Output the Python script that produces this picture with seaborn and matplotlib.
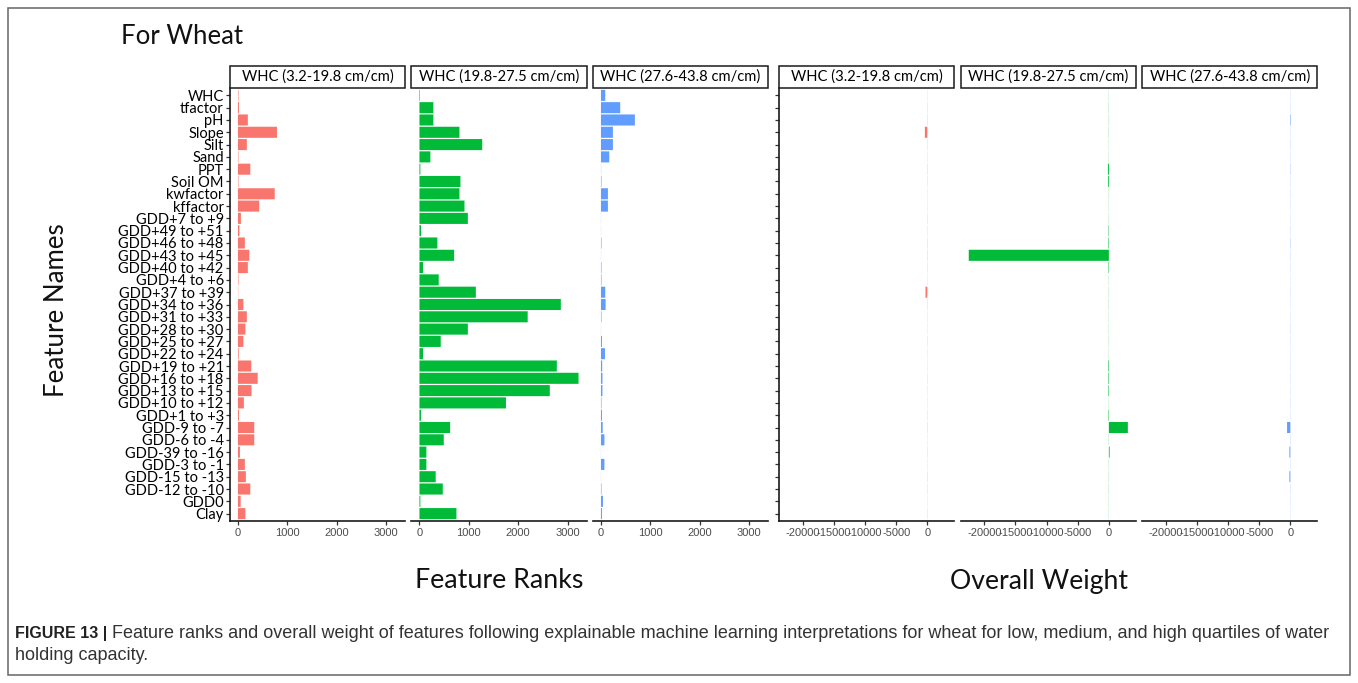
import matplotlib
matplotlib.use("Agg")
import matplotlib.pyplot as plt
from matplotlib.patches import Rectangle
import seaborn as sns
import pandas as pd

# ---- data -------------------------------------------------------------
features = [
    "WHC", "tfactor", "pH", "Slope", "Silt", "Sand", "PPT", "Soil OM",
    "kwfactor", "kffactor", "GDD+7 to +9", "GDD+49 to +51", "GDD+46 to +48",
    "GDD+43 to +45", "GDD+40 to +42", "GDD+4 to +6", "GDD+37 to +39",
    "GDD+34 to +36", "GDD+31 to +33", "GDD+28 to +30", "GDD+25 to +27",
    "GDD+22 to +24", "GDD+19 to +21", "GDD+16 to +18", "GDD+13 to +15",
    "GDD+10 to +12", "GDD+1 to +3", "GDD-9 to -7", "GDD-6 to -4",
    "GDD-39 to -16", "GDD-3 to -1", "GDD-15 to -13", "GDD-12 to -10",
    "GDD0", "Clay",
]

whc_groups = ["WHC (3.2-19.8 cm/cm)", "WHC (19.8-27.5 cm/cm)", "WHC (27.6-43.8 cm/cm)"]
group_colors = ["#F8766D", "#00BA38", "#619CFF"]

# feature ranks per WHC group
rank_low = [10, 20, 200, 790, 180, 10, 250, 10, 745, 430, 60, 30, 140, 230, 200,
            10, 5, 110, 180, 150, 110, 15, 270, 400, 275, 120, 20, 330, 330, 40,
            140, 160, 250, 55, 150]
rank_mid = [10, 282, 282, 810, 1271, 221, 18, 830, 810, 912, 980, 31, 363, 702, 72,
            390, 1142, 2863, 2192, 980, 431, 72, 2782, 3222, 2640, 1752, 31, 621,
            492, 140, 140, 329, 472, 18, 749]
rank_high = [87, 390, 687, 242, 242, 168, 3, 10, 141, 141, 2, 2, 10, 2, 10, 10, 87,
             94, 10, 2, 20, 81, 25, 30, 30, 10, 20, 35, 70, 2, 70, 2, 10, 40, 20]

# overall weight per WHC group
weight_low = [20, -25, 30, -400, 25, -20, 30, -25, 20, -20, 25, -20, 30, -30, 25,
              -20, -300, 25, -20, 20, -25, 20, -20, 25, -20, 20, -25, 30, -20, 25,
              -20, 30, -25, 20, -25]
weight_mid = [20, -25, 30, -25, 20, -20, -150, -120, 25, -20, 25, -60, -80, -22510,
              -70, -20, 25, -25, 20, -20, 25, -20, -90, -80, -80, 20, -70, 3050,
              -25, 120, -20, 25, -25, 20, -20]
weight_high = [-20, 25, 80, -20, 25, -20, 40, 20, -25, 20, -20, 25, 40, -25, 20,
               -20, 25, -20, 20, -25, 20, -20, 25, -20, 20, -25, 20, -530, 25,
               -150, 20, -150, 25, -20, 20]

rank_ticks = [0, 1000, 2000, 3000]
weight_ticks = [-20000, -15000, -10000, -5000, 0]

# ---- long-form table ---------------------------------------------------
rows = []
for measure, series in (("rank", [rank_low, rank_mid, rank_high]),
                        ("weight", [weight_low, weight_mid, weight_high])):
    for grp, vals in zip(whc_groups, series):
        for f, v in zip(features, vals):
            rows.append({"measure": measure, "group": grp, "feature": f, "value": v})
df = pd.DataFrame(rows)

# ---- style -------------------------------------------------------------
sns.set_theme(style="ticks")
plt.rcParams["font.family"] = ["Lato", "DejaVu Sans"]
TICK_FONT = ["Liberation Sans", "DejaVu Sans"]

W, H = 1358, 683
fig = plt.figure(figsize=(W / 100, H / 100), dpi=100)
fig.patch.set_facecolor("white")


def px_axes(left, top, width, height):
    return fig.add_axes([left / W, 1 - (top + height) / H, width / W, height / H])


PANEL_TOP, PANEL_H, PANEL_W = 88, 433, 175
STRIP_H = 22
n = len(features)


def expanded(lo, hi, mult=0.05):
    span = hi - lo
    return lo - span * mult, hi + span * mult


rank_vals = df.loc[df.measure == "rank", "value"]
weight_vals = df.loc[df.measure == "weight", "value"]
rank_lim = expanded(min(0, rank_vals.min()), rank_vals.max())
weight_lim = expanded(weight_vals.min(), max(0, weight_vals.max()))

layouts = [
    ("rank", [230, 411.5, 593], rank_lim, rank_ticks),
    ("weight", [779.3, 960.8, 1142.3], weight_lim, weight_ticks),
]

for measure, lefts, xlim, ticks in layouts:
    for i, (grp, color, left) in enumerate(zip(whc_groups, group_colors, lefts)):
        ax = px_axes(left, PANEL_TOP, PANEL_W, PANEL_H)
        sub = df[(df.measure == measure) & (df.group == grp)]
        sns.barplot(data=sub, x="value", y="feature", order=features, orient="h",
                    color=color, saturation=1, width=0.9, errorbar=None,
                    linewidth=0, ax=ax)
        # let near-zero bars render as faint hairlines instead of snapped pixels
        for p in ax.patches:
            p.set_snap(False)
        ax.set_xlim(*xlim)
        ax.set_ylim(n - 0.4, -0.6)
        ax.set_xlabel("")
        ax.set_ylabel("")
        ax.set_facecolor("white")
        for s in ("top", "right"):
            ax.spines[s].set_visible(False)
        for s in ("bottom", "left"):
            ax.spines[s].set_color("#1a1a1a")
            ax.spines[s].set_linewidth(1.2)

        ax.set_xticks(ticks)
        ax.set_xticklabels([str(t) for t in ticks], fontfamily=TICK_FONT,
                           fontsize=8, color="#4D4D4D")
        ax.tick_params(axis="x", length=3, width=0.9, color="#333333", pad=2)

        if i == 0:
            ax.tick_params(axis="y", length=3, width=0.9, color="#333333", pad=1.5)
            ax.set_yticks(range(n))
            if measure == "rank":
                ax.set_yticklabels(features, fontsize=10.5, color="black")
            else:
                ax.set_yticklabels([])
        else:
            ax.spines["left"].set_visible(False)
            ax.tick_params(axis="y", left=False, labelleft=False)

        # facet strip
        sh = STRIP_H / PANEL_H
        ax.add_patch(Rectangle((0, 1.0), 1, sh, transform=ax.transAxes,
                               clip_on=False, facecolor="white",
                               edgecolor="#1a1a1a", linewidth=1.1, zorder=5))
        ax.text(0.5, 1 + sh / 2, grp, transform=ax.transAxes, ha="center",
                va="center", fontsize=10.6, color="black", zorder=6)

# ---- titles ------------------------------------------------------------
fig.text(121 / W, 1 - 43.5 / H, "For Wheat", fontsize=18.5, color="#111111",
         ha="left", va="baseline")
fig.text(57 / W, 1 - 310 / H, "Feature Names", fontsize=18.6, color="#111111",
         rotation=90, ha="center", va="center")
fig.text(499 / W, 1 - 581 / H, "Feature Ranks", fontsize=19.3, color="#111111",
         ha="center", va="center")
fig.text(1039 / W, 1 - 581 / H, "Overall Weight", fontsize=19.2, color="#111111",
         ha="center", va="center")

# ---- frame -------------------------------------------------------------
fig.add_artist(Rectangle((8 / W, 1 - 675 / H), (1350 - 8) / W, (675 - 8) / H,
                         transform=fig.transFigure, fill=False,
                         edgecolor="#666666", linewidth=1.1))

# ---- caption -----------------------------------------------------------
CAP_FONT = ["Liberation Sans", "DejaVu Sans"]
renderer = fig.canvas.get_renderer()
lab = fig.text(15 / W, 1 - 638 / H, "FIGURE 13 |", fontsize=11.5,
               fontweight="bold", fontfamily=CAP_FONT, color="#222222",
               ha="left", va="baseline")
lab_end = lab.get_window_extent(renderer).x1
line1 = ("Feature ranks and overall weight of features following explainable "
         "machine learning interpretations for wheat for low, medium, and high "
         "quartiles of water")
body = fig.text((lab_end + 5) / W, 1 - 638 / H, line1, fontsize=10.5,
                fontfamily=CAP_FONT, color="#333333", ha="left", va="baseline")
width_now = body.get_window_extent(renderer).width
target = 1343 - (lab_end + 5)
cap_size = 10.5 * target / width_now
body.set_fontsize(cap_size)
fig.text(15 / W, 1 - 660 / H, "holding capacity.", fontsize=cap_size,
         fontfamily=CAP_FONT, color="#333333", ha="left", va="baseline")

fig.savefig("out.png", dpi=100, facecolor="white")
